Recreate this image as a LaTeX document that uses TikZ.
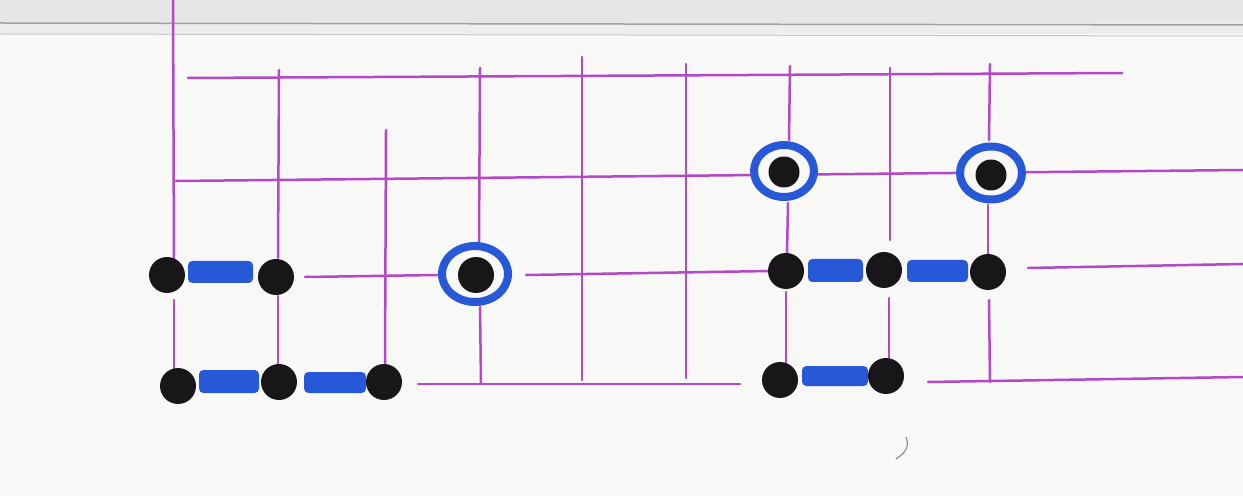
\documentclass[tikz,border=0pt]{standalone}
\usetikzlibrary{shapes.geometric}
\definecolor{gridc}{RGB}{180,72,200}
\definecolor{stoneblue}{RGB}{38,88,215}
\definecolor{paper}{RGB}{248,248,246}
\definecolor{band}{RGB}{229,231,228}
\definecolor{bandline}{RGB}{160,162,160}
\definecolor{stonec}{RGB}{24,22,24}
\tikzset{
  gridline/.style={draw=gridc, line width=0.05cm, line cap=round},
  stone/.style={circle, fill=stonec, inner sep=0pt, minimum size=0.72cm},
  ringmark/.style={draw=stoneblue, fill=paper, line width=0.16cm},
  bar/.style={fill=stoneblue, rounded corners=2.5pt},
}
\begin{document}
\begin{tikzpicture}[x=0.02cm, y=-0.02cm]
\useasboundingbox (0,0) rectangle (1243,496);
% paper
\fill[paper] (0,0) rectangle (1243,496);
\fill[band] (0,0) rectangle (1243,23);
\fill[band!60!paper] (0,23) rectangle (1243,34);
\draw[bandline, line width=0.03cm] (0,23) -- (1243,25);
\draw[band!70!gray, line width=0.02cm] (0,34) -- (1243,36);

% vertical lines
\draw[gridline] (173,0) -- (174,260);
\draw[gridline] (174,300) -- (174,370);
\draw[gridline] (279,70) -- (278,258);
\draw[gridline] (278,296) -- (278,364);
\draw[gridline] (386,130) -- (385,364);
\draw[gridline] (480,68) -- (479,242);
\draw[gridline] (480,307) -- (481,383);
\draw[gridline] (582,57) -- (582,380);
\draw[gridline] (686,64) -- (686,378);
\draw[gridline] (790,66) -- (789,140);
\draw[gridline] (788,203) -- (787,253);
\draw[gridline] (786,292) -- (786,363);
\draw[gridline] (890,68) -- (890,240);
\draw[gridline] (889,298) -- (889,358);
\draw[gridline] (990,64) -- (989,140);
\draw[gridline] (988,205) -- (988,255);
\draw[gridline] (989,300) -- (990,382);

% horizontal lines
\draw[gridline] (188,78) -- (1122,73);
\draw[gridline] (176,181) -- (1243,170);
\draw[gridline] (305,277) -- (437,275);
\draw[gridline] (526,275) -- (770,271);
\draw[gridline] (1028,268) -- (1243,264);
\draw[gridline] (418,384) -- (740,384);
\draw[gridline] (928,382) -- (1243,377);

% blue rings
\draw[ringmark] (475,274) ellipse [x radius=0.66cm, y radius=0.56cm];
\draw[ringmark] (784,171) ellipse [x radius=0.60cm, y radius=0.52cm];
\draw[ringmark] (991,173) ellipse [x radius=0.62cm, y radius=0.53cm];

% blue bars
\fill[bar] (188,261) rectangle (253,283);
\fill[bar] (199,370) rectangle (259,393);
\fill[bar] (304,372) rectangle (366,393);
\fill[bar] (808,259) rectangle (863,282);
\fill[bar] (907,260) rectangle (968,282);
\fill[bar] (802,366) rectangle (868,386);

% stones
\node[stone] (a1) at (167,275) {};
\node[stone] (a2) at (276,277) {};
\node[stone] (b1) at (178,386) {};
\node[stone] (b2) at (279,382) {};
\node[stone] (b3) at (384,382) {};
\node[stone] (c1) at (476,275) {};
\node[stone, minimum size=0.62cm] (r1) at (784,172) {};
\node[stone, minimum size=0.62cm] (r2) at (991,175) {};
\node[stone] (d1) at (786,271) {};
\node[stone] (d2) at (884,270) {};
\node[stone] (d3) at (988,272) {};
\node[stone] (e1) at (780,380) {};
\node[stone] (e2) at (886,376) {};

% stray pencil mark
\draw[gray, line width=0.02cm] (906,437) .. controls (910,447) and (905,453) .. (896,459);
\end{tikzpicture}
\end{document}
